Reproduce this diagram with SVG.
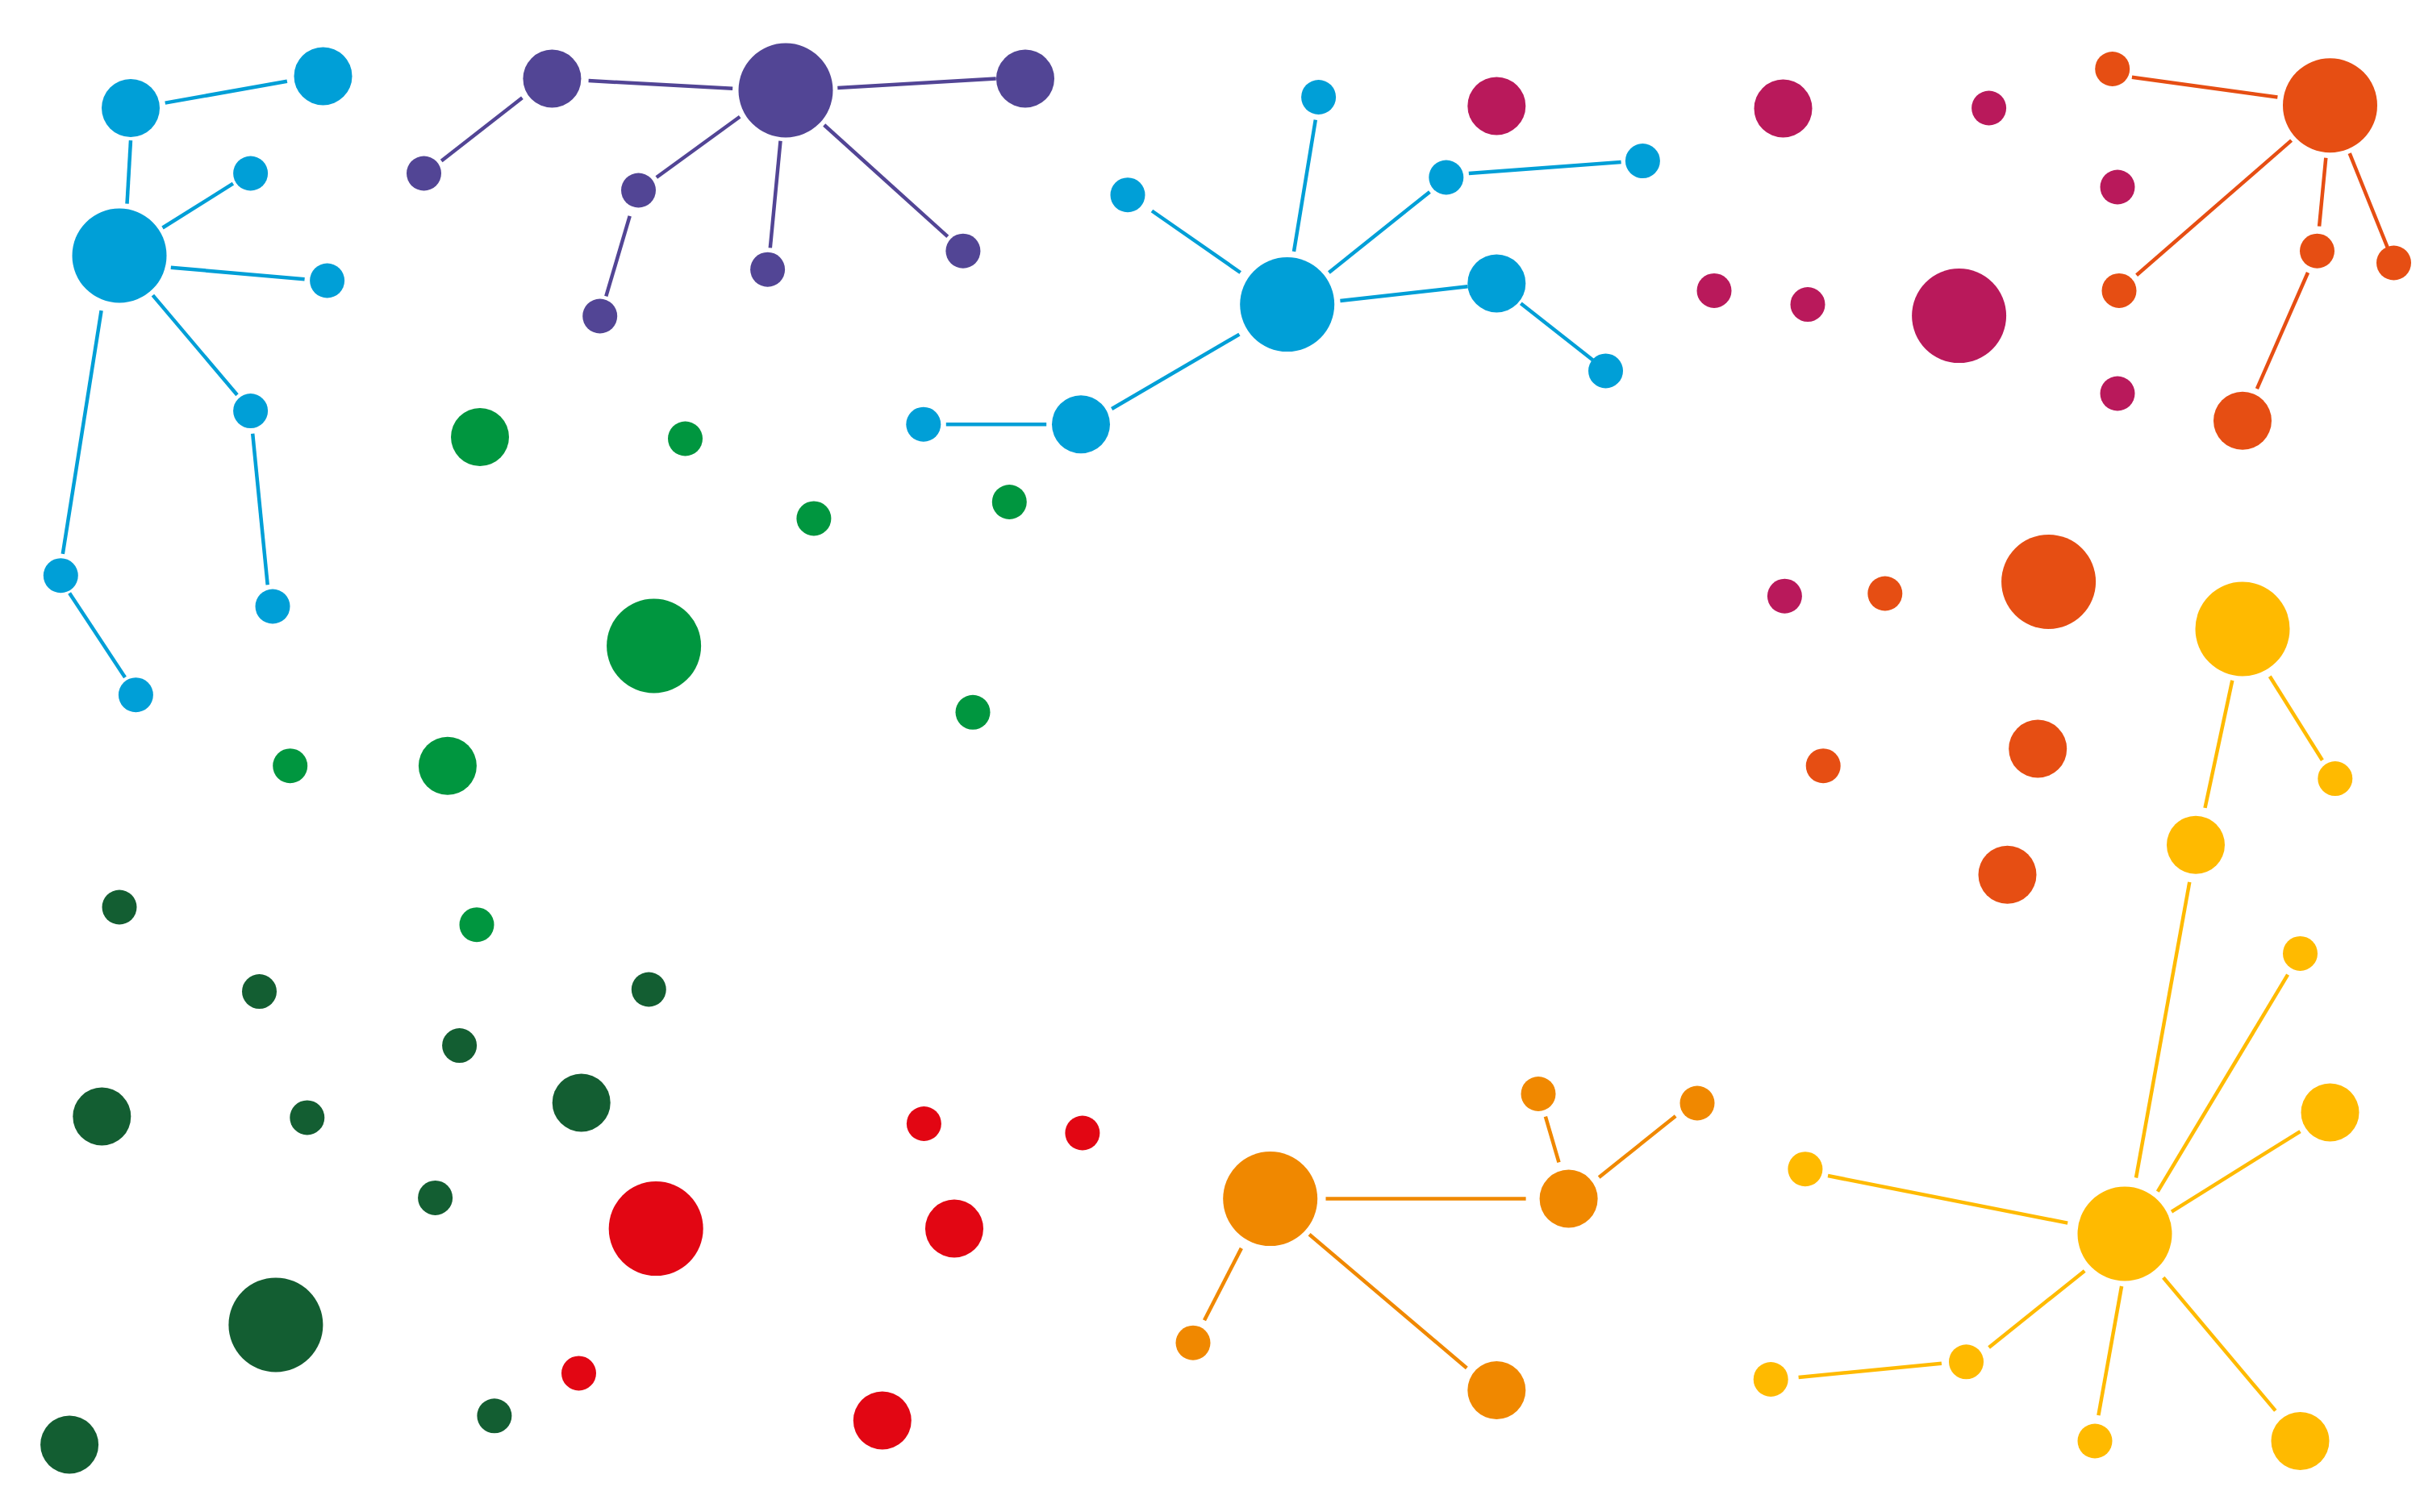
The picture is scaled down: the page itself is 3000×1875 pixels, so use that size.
<svg xmlns="http://www.w3.org/2000/svg" width="3000" height="1875" viewBox="0 0 3000 1875">
<style>
.cy{fill:#009FD7}.pu{fill:#524595}.gr{fill:#00963F}.dg{fill:#135E32}
.mg{fill:#B9195B}.or{fill:#E64E13}.rd{fill:#E20613}.og{fill:#F08800}.ye{fill:#FFBA00}
.e{stroke-width:4.5;fill:none}
.ecy{stroke:#009FD7}.epu{stroke:#524595}.eor{stroke:#E64E13}.eog{stroke:#F08800}.eye{stroke:#FFBA00}
</style>
<rect width="3000" height="1875" fill="#fff"/>
<g id="connectors">
<g class="e ecy">
<line x1="204.7" y1="127.6" x2="355.9" y2="100.8"/>
<line x1="162" y1="174.1" x2="157.5" y2="252.6"/>
<line x1="201.5" y1="282.5" x2="288.9" y2="227.7"/>
<line x1="211.8" y1="331.7" x2="377.6" y2="346.3"/>
<line x1="189.4" y1="366.1" x2="294" y2="489.8"/>
<line x1="125.6" y1="385.2" x2="77.8" y2="686.9"/>
<line x1="86.1" y1="735.4" x2="155" y2="840"/>
<line x1="313.2" y1="537.7" x2="331.7" y2="725.2"/>
<line x1="1604" y1="311.9" x2="1630.8" y2="148.6"/>
<line x1="1537.7" y1="338" x2="1428" y2="261.5"/>
<line x1="1647.4" y1="338" x2="1772.4" y2="237.9"/>
<line x1="1820.8" y1="214.9" x2="2009.6" y2="200.9"/>
<line x1="1661.4" y1="373.1" x2="1819.6" y2="355.3"/>
<line x1="1885.3" y1="376.3" x2="1974.6" y2="446.5"/>
<line x1="1536.4" y1="414.6" x2="1378.2" y2="507"/>
<line x1="1297.2" y1="526.2" x2="1172.8" y2="526.2"/>
</g>
<g class="e epu">
<line x1="547.2" y1="199.6" x2="647.4" y2="121.2"/>
<line x1="729.6" y1="100.1" x2="908.2" y2="109.7"/>
<line x1="917.2" y1="144.8" x2="813.8" y2="220"/>
<line x1="780.7" y1="267.9" x2="751.3" y2="367.4"/>
<line x1="967.5" y1="174.8" x2="954.8" y2="307.4"/>
<line x1="1038.3" y1="109.1" x2="1234.7" y2="97.6"/>
<line x1="1021.7" y1="155" x2="1174.8" y2="293.4"/>
</g>
<g class="e eor">
<line x1="2642.9" y1="95.7" x2="2823.4" y2="120.5"/>
<line x1="2840.6" y1="174.1" x2="2648.6" y2="341.2"/>
<line x1="2883.3" y1="195.8" x2="2875.1" y2="280.6"/>
<line x1="2912.7" y1="190.1" x2="2959.9" y2="307.4"/>
<line x1="2861" y1="338" x2="2797.9" y2="482.2"/>
</g>
<g class="e eog">
<line x1="1643.5" y1="1486.6" x2="1891.6" y2="1486.6"/>
<line x1="1915.9" y1="1384.6" x2="1932.5" y2="1441.4"/>
<line x1="1982.2" y1="1459.9" x2="2077.2" y2="1384"/>
<line x1="1538.9" y1="1547.9" x2="1493" y2="1637.2"/>
<line x1="1623.1" y1="1530.7" x2="1818.3" y2="1696.5"/>
</g>
<g class="e eye">
<line x1="2767.3" y1="843.8" x2="2733.5" y2="1001.9"/>
<line x1="2813.8" y1="838.7" x2="2878.9" y2="942.7"/>
<line x1="2714.3" y1="1093.8" x2="2648" y2="1460.5"/>
<line x1="2836.1" y1="1208.6" x2="2674.8" y2="1477.7"/>
<line x1="2851.5" y1="1403.1" x2="2692" y2="1502.6"/>
<line x1="2266" y1="1458" x2="2563.2" y2="1516.6"/>
<line x1="2584.2" y1="1575.9" x2="2465.6" y2="1671"/>
<line x1="2406.9" y1="1690.7" x2="2229.6" y2="1708"/>
<line x1="2630.1" y1="1595" x2="2601.4" y2="1755.2"/>
<line x1="2681.8" y1="1584.2" x2="2820.8" y2="1749.4"/>
</g>
</g>
<g id="nodes">
<g id="cy1"><circle class="cy" cx="162" cy="134" r="36"/></g>
<g id="cy2"><circle class="cy" cx="400.5" cy="94.4" r="36"/></g>
<g id="cy3"><circle class="cy" cx="148" cy="317" r="58.5"/></g>
<g id="cy4"><circle class="cy" cx="310.6" cy="215" r="21.5"/></g>
<g id="cy5"><circle class="cy" cx="405.6" cy="348" r="21.5"/></g>
<g id="cy6"><circle class="cy" cx="310.6" cy="509.6" r="21.5"/></g>
<g id="cy7"><circle class="cy" cx="75.3" cy="713.7" r="21.5"/></g>
<g id="cy8"><circle class="cy" cx="168.4" cy="861.7" r="21.5"/></g>
<g id="cy9"><circle class="cy" cx="338" cy="752" r="21.5"/></g>
<g id="cy10"><circle class="cy" cx="1595.7" cy="377.6" r="58.5"/></g>
<g id="cy11"><circle class="cy" cx="1634.6" cy="120.5" r="21.5"/></g>
<g id="cy12"><circle class="cy" cx="1398" cy="241.7" r="21.5"/></g>
<g id="cy13"><circle class="cy" cx="1792.8" cy="220" r="21.5"/></g>
<g id="cy14"><circle class="cy" cx="2036.4" cy="199.6" r="21.5"/></g>
<g id="cy15"><circle class="cy" cx="1855.3" cy="351.4" r="36"/></g>
<g id="cy16"><circle class="cy" cx="1990.5" cy="459.9" r="21.5"/></g>
<g id="cy17"><circle class="cy" cx="1340" cy="526.2" r="36"/></g>
<g id="cy18"><circle class="cy" cx="1144.8" cy="526.2" r="21.5"/></g>
<g id="pu1"><circle class="pu" cx="684.4" cy="97.6" r="36"/></g>
<g id="pu2"><circle class="pu" cx="974" cy="112" r="58.5"/></g>
<g id="pu3"><circle class="pu" cx="525.5" cy="215" r="21.5"/></g>
<g id="pu4"><circle class="pu" cx="791.5" cy="236" r="21.5"/></g>
<g id="pu5"><circle class="pu" cx="743.7" cy="392" r="21.5"/></g>
<g id="pu6"><circle class="pu" cx="951.6" cy="334.2" r="21.5"/></g>
<g id="pu7"><circle class="pu" cx="1271" cy="97.6" r="36"/></g>
<g id="pu8"><circle class="pu" cx="1193.9" cy="311.2" r="21.5"/></g>
<g id="gr1"><circle class="gr" cx="595" cy="542" r="36"/></g>
<g id="gr2"><circle class="gr" cx="849.5" cy="544" r="21.5"/></g>
<g id="gr3"><circle class="gr" cx="810.6" cy="801" r="58.5"/></g>
<g id="gr4"><circle class="gr" cx="359.7" cy="949.7" r="21.5"/></g>
<g id="gr5"><circle class="gr" cx="554.9" cy="949.7" r="36"/></g>
<g id="gr6"><circle class="gr" cx="1008.9" cy="642.9" r="21.5"/></g>
<g id="gr7"><circle class="gr" cx="1251.3" cy="622.5" r="21.5"/></g>
<g id="gr8"><circle class="gr" cx="1206" cy="883.3" r="21.5"/></g>
<g id="gr9"><circle class="gr" cx="591" cy="1146.7" r="21.5"/></g>
<g id="dg1"><circle class="dg" cx="148" cy="1125" r="21.5"/></g>
<g id="dg2"><circle class="dg" cx="321.5" cy="1229.6" r="21.5"/></g>
<g id="dg3"><circle class="dg" cx="804.3" cy="1227" r="21.5"/></g>
<g id="dg4"><circle class="dg" cx="569.6" cy="1296.6" r="21.5"/></g>
<g id="dg5"><circle class="dg" cx="126.3" cy="1384.6" r="36"/></g>
<g id="dg6"><circle class="dg" cx="380.8" cy="1385.9" r="21.5"/></g>
<g id="dg7"><circle class="dg" cx="720.7" cy="1367.4" r="36"/></g>
<g id="dg8"><circle class="dg" cx="539.6" cy="1485.4" r="21.5"/></g>
<g id="dg9"><circle class="dg" cx="341.9" cy="1642.9" r="58.5"/></g>
<g id="dg10"><circle class="dg" cx="612.9" cy="1755.8" r="21.5"/></g>
<g id="dg11"><circle class="dg" cx="86.1" cy="1791.5" r="36"/></g>
<g id="rd1"><circle class="rd" cx="1145.4" cy="1393.5" r="21.5"/></g>
<g id="rd2"><circle class="rd" cx="1341.9" cy="1405" r="21.5"/></g>
<g id="rd3"><circle class="rd" cx="1183" cy="1523.6" r="36"/></g>
<g id="rd4"><circle class="rd" cx="1093.8" cy="1761.5" r="36"/></g>
<g id="rd5"><circle class="rd" cx="813.2" cy="1523.6" r="58.5"/></g>
<g id="rd6"><circle class="rd" cx="717.5" cy="1702.9" r="21.5"/></g>
<g id="mg1"><circle class="mg" cx="1855.3" cy="131.4" r="36"/></g>
<g id="mg2"><circle class="mg" cx="2210.5" cy="134.6" r="36"/></g>
<g id="mg3"><circle class="mg" cx="2465.6" cy="134" r="21.5"/></g>
<g id="mg4"><circle class="mg" cx="2625" cy="232" r="21.5"/></g>
<g id="mg5"><circle class="mg" cx="2125" cy="360.4" r="21.5"/></g>
<g id="mg6"><circle class="mg" cx="2241" cy="377.6" r="21.5"/></g>
<g id="mg7"><circle class="mg" cx="2428.6" cy="391.6" r="58.5"/></g>
<g id="mg8"><circle class="mg" cx="2625" cy="488" r="21.5"/></g>
<g id="mg9"><circle class="mg" cx="2212.4" cy="739.2" r="21.5"/></g>
<g id="or1"><circle class="or" cx="2618.7" cy="85.5" r="21.5"/></g>
<g id="or2"><circle class="or" cx="2888.5" cy="130.7" r="58.5"/></g>
<g id="or3"><circle class="or" cx="2627" cy="360.4" r="21.5"/></g>
<g id="or4"><circle class="or" cx="2872.5" cy="311.2" r="21.5"/></g>
<g id="or5"><circle class="or" cx="2967.5" cy="326" r="21.5"/></g>
<g id="or6"><circle class="or" cx="2780" cy="521.7" r="36"/></g>
<g id="or7"><circle class="or" cx="2336.8" cy="736" r="21.5"/></g>
<g id="or8"><circle class="or" cx="2539.6" cy="721.4" r="58.5"/></g>
<g id="or9"><circle class="or" cx="2260.2" cy="949.7" r="21.5"/></g>
<g id="or10"><circle class="or" cx="2526.2" cy="928.6" r="36"/></g>
<g id="or11"><circle class="or" cx="2488.5" cy="1084.8" r="36"/></g>
<g id="og1"><circle class="og" cx="1574.7" cy="1486.6" r="58.5"/></g>
<g id="og2"><circle class="og" cx="1944.6" cy="1486.6" r="36"/></g>
<g id="og3"><circle class="og" cx="1907" cy="1356.5" r="21.5"/></g>
<g id="og4"><circle class="og" cx="1479" cy="1665.2" r="21.5"/></g>
<g id="og5"><circle class="og" cx="1855.3" cy="1724" r="36"/></g>
<g id="og6"><circle class="og" cx="2104" cy="1368" r="21.5"/></g>
<g id="ye1"><circle class="ye" cx="2780" cy="780" r="58.5"/></g>
<g id="ye2"><circle class="ye" cx="2894.8" cy="965.6" r="21.5"/></g>
<g id="ye3"><circle class="ye" cx="2722" cy="1047.8" r="36"/></g>
<g id="ye4"><circle class="ye" cx="2851.5" cy="1182.4" r="21.5"/></g>
<g id="ye5"><circle class="ye" cx="2888.5" cy="1379.5" r="36"/></g>
<g id="ye6"><circle class="ye" cx="2237.9" cy="1449.7" r="21.5"/></g>
<g id="ye7"><circle class="ye" cx="2634" cy="1530" r="58.5"/></g>
<g id="ye8"><circle class="ye" cx="2437.5" cy="1688.8" r="21.5"/></g>
<g id="ye9"><circle class="ye" cx="2195.2" cy="1710.5" r="21.5"/></g>
<g id="ye10"><circle class="ye" cx="2597" cy="1787" r="21.5"/></g>
<g id="ye11"><circle class="ye" cx="2851.5" cy="1787" r="36"/></g>
</g>
</svg>
